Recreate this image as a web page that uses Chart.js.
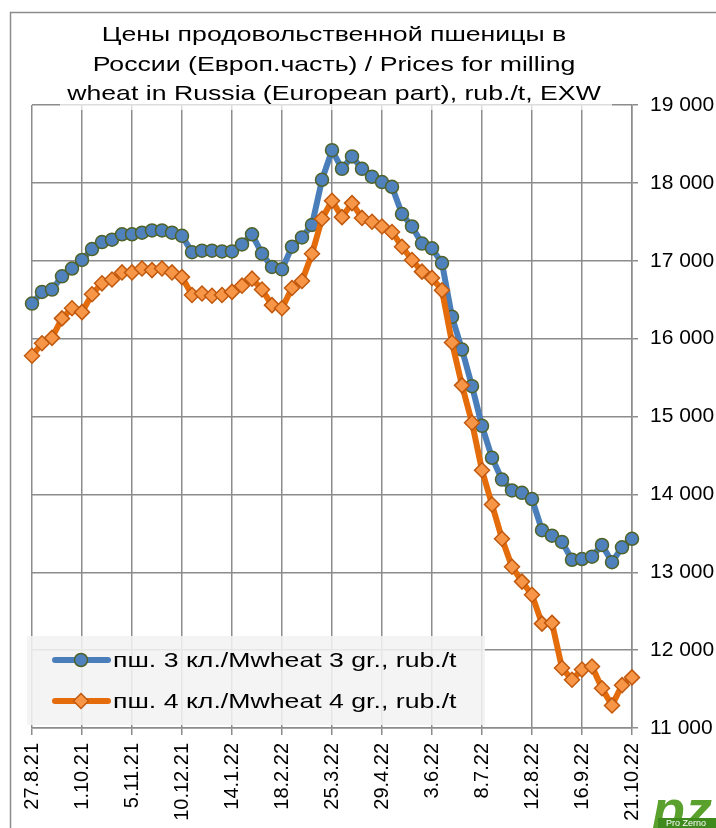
<!DOCTYPE html>
<html>
<head>
<meta charset="utf-8">
<script src="https://cdn.jsdelivr.net/npm/chart.js@4.4.0/dist/chart.umd.min.js"></script>
<style>
  html, body { margin: 0; padding: 0; background: #fff; }
</style>
</head>
<body>
<canvas id="grafico" width="716" height="828"></canvas>
<script>
// datas semanais (sexta-feira), 27.8.21 ... 21.10.22
const datas = [
  '27.8.21', '3.9.21', '10.9.21', '17.9.21', '24.9.21',
  '1.10.21', '8.10.21', '15.10.21', '22.10.21', '29.10.21',
  '5.11.21', '12.11.21', '19.11.21', '26.11.21', '3.12.21',
  '10.12.21', '17.12.21', '24.12.21', '31.12.21', '7.1.22',
  '14.1.22', '21.1.22', '28.1.22', '4.2.22', '11.2.22',
  '18.2.22', '25.2.22', '4.3.22', '11.3.22', '18.3.22',
  '25.3.22', '1.4.22', '8.4.22', '15.4.22', '22.4.22',
  '29.4.22', '6.5.22', '13.5.22', '20.5.22', '27.5.22',
  '3.6.22', '10.6.22', '17.6.22', '24.6.22', '1.7.22',
  '8.7.22', '15.7.22', '22.7.22', '29.7.22', '5.8.22',
  '12.8.22', '19.8.22', '26.8.22', '2.9.22', '9.9.22',
  '16.9.22', '23.9.22', '30.9.22', '7.10.22', '14.10.22',
  '21.10.22'
]

// trigo 3ª classe, rub./t
const trigo3 = [
  16450, 16600, 16630, 16800, 16900,
  17010, 17150, 17240, 17270, 17340,
  17340, 17360, 17390, 17390, 17360,
  17320, 17110, 17130, 17130, 17120,
  17120, 17210, 17340, 17090, 16920,
  16890, 17180, 17300, 17460, 18040,
  18420, 18180, 18340, 18180, 18080,
  18010, 17950, 17600, 17440, 17220,
  17160, 16970, 16280, 15860, 15390,
  14880, 14470, 14190, 14050, 14020,
  13940, 13540, 13470, 13390, 13160,
  13170, 13200, 13350, 13130, 13320,
  13430
]

// trigo 4ª classe, rub./t
const trigo4 = [
  15780, 15940, 16010, 16260, 16390,
  16340, 16570, 16710, 16760, 16850,
  16850, 16900, 16880, 16900, 16850,
  16790, 16560, 16580, 16550, 16560,
  16600, 16680, 16770, 16630, 16430,
  16390, 16650, 16740, 17090, 17540,
  17770, 17560, 17740, 17550, 17500,
  17440, 17370, 17180, 17010, 16860,
  16780, 16620, 15950, 15400, 14920,
  14310, 13870, 13430, 13070, 12880,
  12710, 12340, 12350, 11770, 11620,
  11750, 11790, 11510, 11290, 11550,
  11650
]

const nomesSeries = ['пш. 3 кл./Mwheat 3 gr., rub./t', 'пш. 4 кл./Mwheat 4 gr., rub./t']

const linhasTitulo = [
  'Цены продовольственной пшеницы в',
  'России (Европ.часть) / Prices for milling',
  'wheat in Russia (European part), rub./t, EXW'
]

const fonte = "'Liberation Sans', Arial, sans-serif"
const cinza = '#8c8c8c'

// moldura externa e fundo branco
const moldura = {
  id: 'moldura',
  beforeDraw(chart) {
    const ctx = chart.ctx
    ctx.save()
    ctx.fillStyle = '#fff'
    ctx.fillRect(0, 0, chart.width, chart.height)
    ctx.strokeStyle = cinza
    ctx.lineWidth = 1.5
    ctx.beginPath()
    ctx.moveTo(10.5, chart.height)
    ctx.lineTo(10.5, 12.5)
    ctx.lineTo(chart.width, 12.5)
    ctx.stroke()
    ctx.restore()
  }
}

// titulo (texto esticado na horizontal, como no original)
const titulo = {
  id: 'titulo',
  afterDraw(chart) {
    const ctx = chart.ctx
    ctx.save()
    ctx.fillStyle = 'rgba(255,255,255,0.7)'
    ctx.fillRect(60, 14, 552, 96)
    ctx.fillStyle = '#000'
    ctx.font = '21px ' + fonte
    ctx.textAlign = 'center'
    ctx.textBaseline = 'alphabetic'
    linhasTitulo.forEach((txt, i) => {
      ctx.save()
      ctx.translate(334, 41 + i * 29.5)
      ctx.scale(1.27, 1)
      ctx.fillText(txt, 0, 0)
      ctx.restore()
    })
    ctx.restore()
  }
}

// legenda dentro da area do grafico
const legenda = {
  id: 'legenda',
  afterDraw(chart) {
    const ctx = chart.ctx
    ctx.save()
    ctx.fillStyle = 'rgba(242,242,242,0.88)'
    ctx.fillRect(27, 636, 458, 89)
    // ordem da legenda: 3 кл. em cima
    const ordem = [1, 0]
    ordem.forEach((idx, i) => {
      const ds = chart.data.datasets[idx]
      const y = 660 + i * 41
      ctx.strokeStyle = ds.borderColor
      ctx.lineWidth = 6
      ctx.lineCap = 'round'
      ctx.beginPath()
      ctx.moveTo(55, y)
      ctx.lineTo(108, y)
      ctx.stroke()
      ctx.fillStyle = ds.pointBackgroundColor
      ctx.strokeStyle = ds.pointBorderColor
      ctx.lineWidth = ds.pointBorderWidth
      Chart.helpers.drawPoint(ctx, {
        pointStyle: ds.pointStyle,
        radius: ds.pointRadius,
        borderWidth: ds.pointBorderWidth,
        rotation: 0
      }, 81, y)
      ctx.fillStyle = '#000'
      ctx.font = '21px ' + fonte
      ctx.textAlign = 'left'
      ctx.textBaseline = 'middle'
      ctx.save()
      ctx.translate(113, y + 1)
      ctx.scale(1.27, 1)
      ctx.fillText(ds.label, 0, 0)
      ctx.restore()
    })
    ctx.restore()
  }
}

// logotipo Pro Zerno no canto
const logo = {
  id: 'logo',
  afterDraw(chart) {
    const ctx = chart.ctx
    ctx.save()
    ctx.fillStyle = '#5aa02c'
    ctx.font = 'bold italic 54px ' + fonte
    ctx.textBaseline = 'alphabetic'
    ctx.fillText('pz', 652, 828)
    ctx.fillStyle = '#3f8a1c'
    ctx.fillRect(658, 818, 58, 10)
    ctx.fillStyle = '#fff'
    ctx.font = '9px ' + fonte
    ctx.fillText('Pro Zerno', 666, 826)
    ctx.restore()
  }
}

function formatarMilhar(v) {
  return String(v).replace(/\B(?=(\d{3})+(?!\d))/g, ' ')
}

const ctx = document.getElementById('grafico').getContext('2d')

new Chart(ctx, {
  type: 'line',
  data: {
    labels: datas,
    datasets: [
      {
        label: nomesSeries[1],
        data: trigo4,
        order: 0,
        borderColor: '#e46c0a',
        borderWidth: 6,
        pointStyle: 'rectRot',
        pointRadius: 7.5,
        pointBackgroundColor: '#f79646',
        pointBorderColor: '#c0580e',
        pointBorderWidth: 1.5,
        tension: 0
      },
      {
        label: nomesSeries[0],
        data: trigo3,
        order: 1,
        borderColor: '#4a7ebb',
        borderWidth: 6,
        pointStyle: 'circle',
        pointRadius: 6.5,
        pointBackgroundColor: '#4f81bd',
        pointBorderColor: '#4f6228',
        pointBorderWidth: 1.5,
        tension: 0
      }
    ]
  },
  options: {
    responsive: false,
    animation: false,
    layout: {
      padding: { left: 32, right: 0, top: 105, bottom: 0 }
    },
    plugins: {
      legend: { display: false },
      title: { display: false },
      tooltip: { enabled: false }
    },
    scales: {
      x: {
        offset: false,
        afterFit: (s) => { s.height = 100 },
        grid: {
          color: (c) => (c.index % 5 === 0 ? cinza : 'rgba(0,0,0,0)'),
          lineWidth: 1.5,
          tickLength: 7
        },
        border: { color: cinza, width: 1.5 },
        ticks: {
          autoSkip: false,
          minRotation: 90,
          maxRotation: 90,
          padding: 8,
          color: '#000',
          font: { family: fonte, size: 20 },
          callback: function (val, i) {
            return i % 5 === 0 ? this.getLabelForValue(val) : ''
          }
        }
      },
      y: {
        position: 'right',
        min: 11000,
        max: 19000,
        afterFit: (s) => { s.width = 84 },
        grid: { color: cinza, lineWidth: 1.5, tickLength: 6 },
        border: { color: cinza, width: 1.5 },
        ticks: {
          stepSize: 1000,
          padding: 12,
          color: '#000',
          font: { family: fonte, size: 21 },
          callback: (v) => formatarMilhar(v)
        }
      }
    }
  },
  plugins: [moldura, titulo, legenda, logo]
})
</script>
</body>
</html>
